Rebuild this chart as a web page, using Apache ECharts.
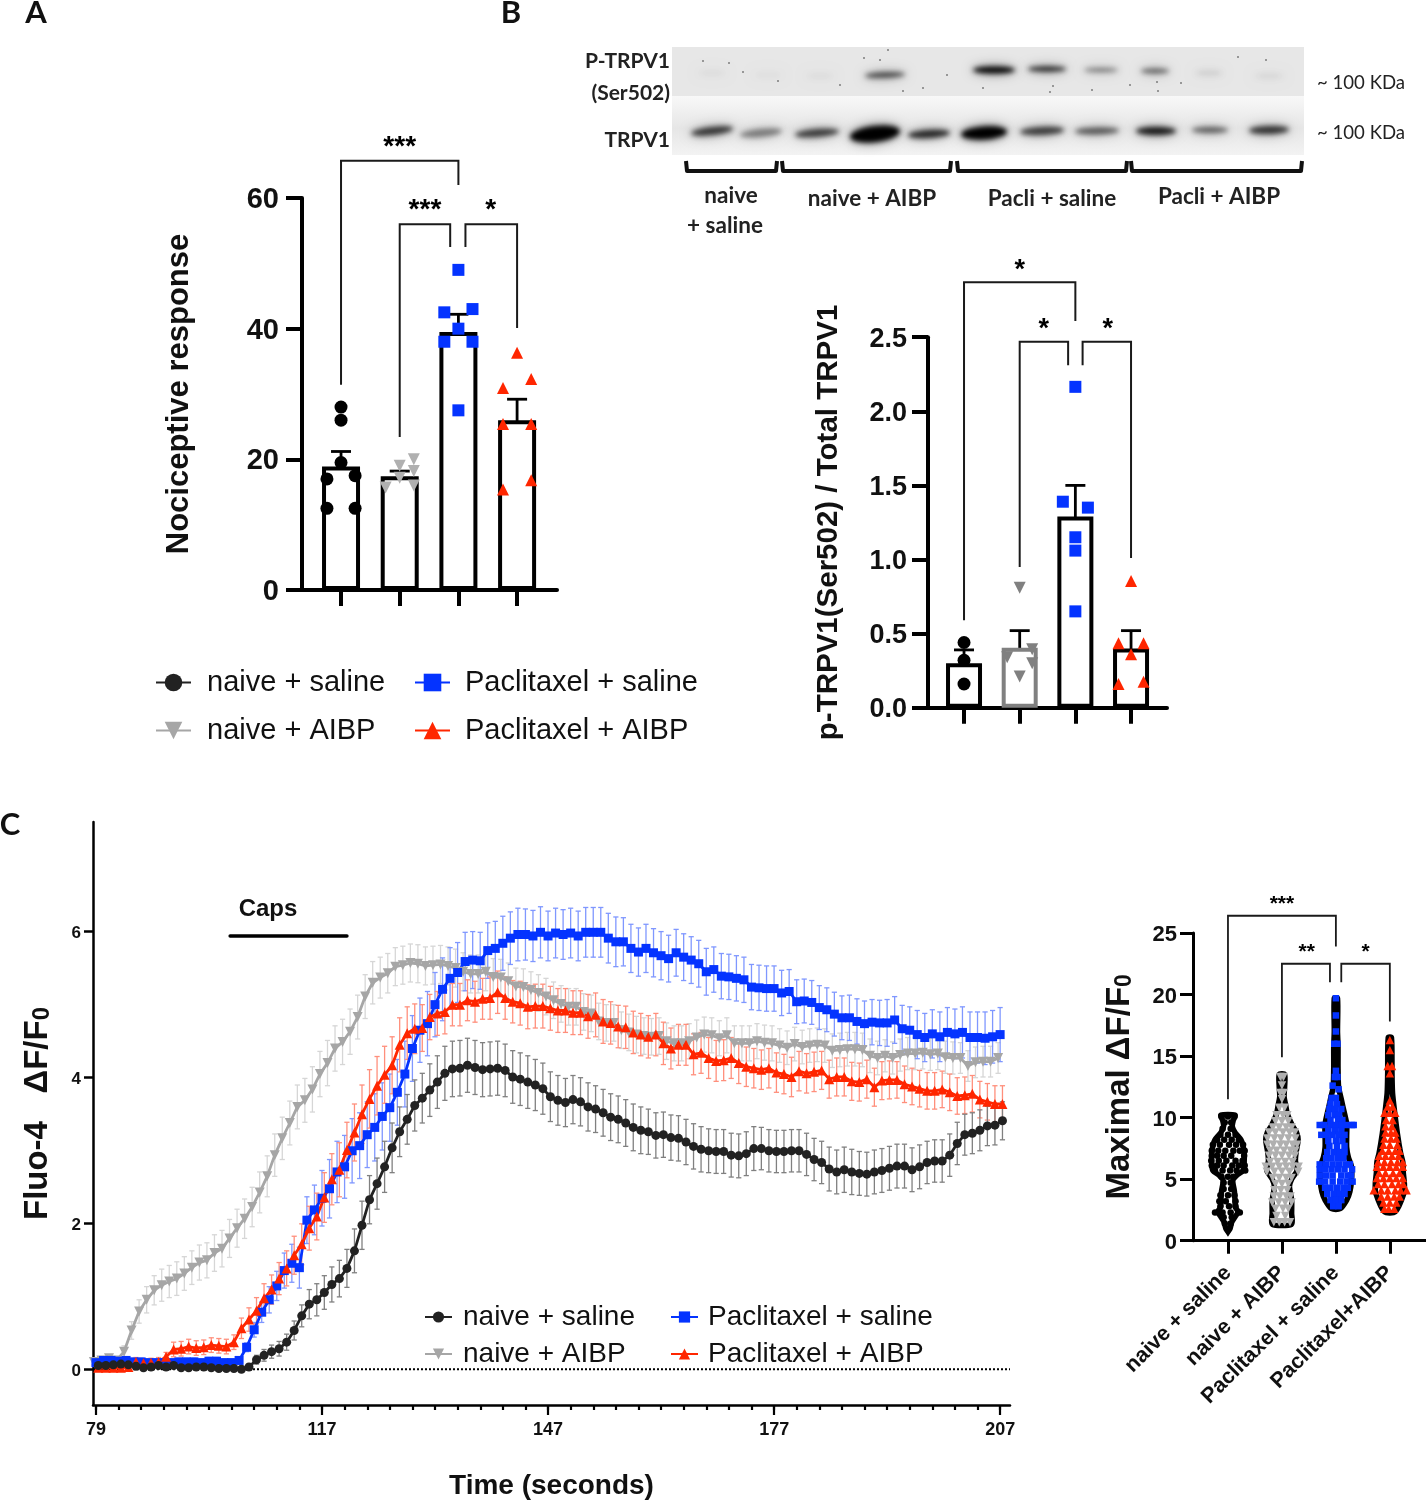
<!DOCTYPE html>
<html><head><meta charset="utf-8">
<style>html,body{margin:0;padding:0;background:#fff}#c{width:1426px;height:1500px}</style>
<script src="https://cdn.jsdelivr.net/npm/echarts@6/dist/echarts.min.js"></script>
</head><body><div id="c"></div>
<script>
const groupNames = ['naive + saline','naive + AIBP','Paclitaxel + saline','Paclitaxel + AIBP'];
const groupTicks = ['naive + saline','naive + AIBP','Paclitaxel + saline','Paclitaxel+AIBP'];
const colors = ['#000000','#b0b0b0','#0433ff','#ff2600'];
const lineColors = ['#222222','#a6a6a6','#0433ff','#ff2600'];
const errColors = ['#808080','#d6d6d6','#7f97ff','#ff8f7c'];

// Panel A
const aMean = [18.9,17.4,39.5,26];
const aHigh = [21.2,18.2,42.2,29.2];
const aLow = [16.7,16.6,37.1,23.2];
const aPoints = [
  [[0,28],[0,26],[0,19.5],[-0.24,17],[0.24,17.5],[-0.24,12.5],[0.24,12.5]],
  [[0.24,20],[0,19],[0.24,18.2],[0,17.2],[0.24,16],[-0.24,15.7]],
  [[0,49],[-0.24,42.5],[0.24,43],[0,40],[-0.24,38],[0.24,38],[0,27.5]],
  [[0,36.3],[0.24,32.3],[-0.24,30.9],[-0.24,25.4],[0.24,25.4],[0.24,16.8],[-0.24,15.4]]
];
// x0, x1, top, left leg end, right leg end, label x, label
const aBrackets = [
  [0,2,65.7,31.4,62,1,'***'],
  [1,1.86,56,23.4,52.5,1.43,'***'],
  [2.12,3,56,52.5,40.1,2.55,'*']
];
// Panel B
const bMean = [0.30,0.405,1.29,0.40];
const bHigh = [0.39,0.52,1.50,0.52];
const bLow = [0.22,0.30,1.09,0.30];
const bPoints = [
  [[0,0.44],[0,0.32],[0,0.16]],
  [[0,0.81],[0.225,0.395],[-0.225,0.34],[0.225,0.30],[0,0.21]],
  [[0,2.165],[-0.225,1.39],[0.225,1.35],[0,1.15],[0,1.06],[0,0.65]],
  [[0,0.855],[-0.225,0.435],[0.225,0.435],[0,0.36],[-0.225,0.16],[0.225,0.175]]
];
const bBrackets = [
  [0,2,2.87,0.59,2.61,1,'*'],
  [1,1.87,2.47,0.95,2.31,1.43,'*'],
  [2.13,3,2.47,2.31,1.01,2.58,'*']
];
// Panel C
const timeTickIndex = [-0.3,29.7,59.7,89.7,119.7];
const timeTickLabels = ['79','117','147','177','207'];
const timeMinorTicks = [-0.3,2.7,5.7,8.7,11.7,14.7,17.7,20.7,23.7,26.7,29.7,32.7,35.7,38.7,41.7,44.7,47.7,50.7,53.7,56.7,59.7,62.7,65.7,68.7,71.7,74.7,77.7,80.7,83.7,86.7,89.7,92.7,95.7,98.7,101.7,104.7,107.7,110.7,113.7,116.7,119.7];
const traceBlack = [.05,.05,.06,.07,.06,.04,.02,.03,.05,.03,.05,.02,.02,.03,.03,.02,.01,.01,.01,0,.03,.13,.19,.24,.28,.37,.53,.73,.89,.95,1.05,1.16,1.24,1.38,1.62,1.97,2.32,2.54,2.77,3.03,3.25,3.42,3.61,3.71,3.82,3.93,4.05,4.11,4.12,4.16,4.13,4.10,4.11,4.12,4.09,4.00,3.97,3.93,3.89,3.84,3.73,3.68,3.65,3.69,3.66,3.59,3.56,3.51,3.45,3.42,3.37,3.31,3.27,3.25,3.20,3.21,3.17,3.16,3.11,3.05,3.01,2.99,2.98,2.98,2.93,2.92,2.95,3.02,3.02,2.99,2.98,2.98,2.99,2.99,2.94,2.87,2.83,2.74,2.70,2.73,2.70,2.68,2.67,2.70,2.72,2.75,2.78,2.78,2.73,2.77,2.83,2.85,2.85,2.93,3.09,3.21,3.23,3.27,3.33,3.34,3.40];
const traceGrey = [.10,.12,.15,.12,.24,.53,.79,.95,1.08,1.15,1.20,1.24,1.31,1.39,1.46,1.49,1.59,1.65,1.79,1.93,2.06,2.22,2.42,2.64,2.93,3.16,3.37,3.59,3.68,3.83,4.04,4.19,4.39,4.48,4.62,4.82,5.10,5.29,5.36,5.42,5.51,5.53,5.56,5.55,5.52,5.53,5.54,5.52,5.49,5.44,5.41,5.41,5.44,5.37,5.36,5.31,5.24,5.23,5.19,5.15,5.10,5.05,5.00,4.96,4.96,4.89,4.87,4.76,4.74,4.74,4.64,4.61,4.58,4.56,4.55,4.56,4.49,4.46,4.46,4.49,4.54,4.58,4.57,4.53,4.57,4.46,4.46,4.46,4.49,4.47,4.46,4.43,4.40,4.45,4.41,4.43,4.44,4.43,4.36,4.37,4.38,4.38,4.37,4.29,4.26,4.29,4.26,4.30,4.32,4.32,4.33,4.31,4.32,4.27,4.26,4.26,4.15,4.20,4.21,4.21,4.26];
const traceBlue = [.09,.12,.12,.11,.12,.10,.10,.09,.09,.09,.09,.10,.10,.10,.09,.11,.11,.09,.09,.12,.30,.54,.78,.95,1.14,1.35,1.45,1.39,2.04,2.18,2.34,2.47,2.70,2.77,2.99,3.06,3.21,3.31,3.46,3.58,3.79,4.04,4.39,4.64,4.73,4.99,5.20,5.35,5.43,5.58,5.60,5.59,5.73,5.76,5.83,5.90,5.95,5.95,5.93,5.98,5.93,5.97,5.95,5.97,5.93,5.98,5.98,5.98,5.90,5.85,5.85,5.76,5.71,5.76,5.70,5.66,5.62,5.70,5.64,5.60,5.55,5.44,5.47,5.38,5.37,5.35,5.33,5.23,5.22,5.21,5.21,5.15,5.17,5.03,5.04,5.02,4.95,4.92,4.86,4.81,4.81,4.76,4.73,4.75,4.74,4.74,4.78,4.66,4.64,4.58,4.54,4.59,4.55,4.61,4.59,4.61,4.54,4.54,4.53,4.55,4.58];
const traceRed = [.02,.02,.02,.02,.03,.10,.08,.09,.10,.17,.27,.28,.31,.29,.30,.33,.32,.31,.37,.56,.68,.80,.97,1.09,1.24,1.38,1.56,1.71,1.93,2.09,2.35,2.60,2.73,3.00,3.24,3.49,3.70,3.88,4.03,4.16,4.44,4.60,4.66,4.67,4.82,4.87,4.89,4.99,4.99,5.05,5.03,5.07,5.08,5.16,5.08,5.03,5.01,4.96,4.97,4.97,4.94,4.91,4.91,4.88,4.88,4.83,4.85,4.76,4.74,4.69,4.68,4.61,4.58,4.55,4.58,4.46,4.39,4.44,4.44,4.31,4.33,4.26,4.22,4.23,4.26,4.19,4.14,4.12,4.10,4.12,4.06,4.04,4.00,4.08,4.05,4.07,4.09,3.97,4.00,4.00,3.94,3.93,3.97,3.86,3.95,3.96,3.96,3.90,3.87,3.84,3.81,3.81,3.83,3.79,3.74,3.75,3.77,3.69,3.66,3.63,3.63];
const errBlack = [.03,.03,.03,.03,.03,.03,.03,.03,.03,.03,.03,.03,.03,.03,.03,.03,.03,.03,.03,.03,.04,.06,.08,.09,.1,.11,.13,.15,.2,.22,.23,.24,.25,.26,.3,.33,.33,.35,.35,.34,.34,.34,.35,.34,.36,.36,.37,.38,.38,.37,.37,.37,.37,.37,.36,.36,.36,.36,.35,.35,.34,.34,.33,.33,.33,.33,.32,.32,.32,.32,.32,.32,.32,.31,.31,.31,.31,.31,.31,.31,.31,.3,.3,.3,.3,.3,.3,.3,.29,.29,.29,.29,.29,.29,.29,.29,.29,.3,.3,.31,.31,.3,.3,.3,.3,.3,.3,.3,.3,.3,.29,.29,.29,.29,.29,.28,.28,.28,.27,.27,.26];
const errGrey = [.04,.04,.04,.04,.08,.12,.16,.18,.2,.22,.22,.23,.23,.23,.24,.24,.25,.25,.26,.26,.27,.27,.28,.28,.29,.29,.3,.3,.3,.31,.31,.31,.31,.31,.31,.3,.3,.29,.28,.27,.26,.26,.26,.26,.26,.26,.26,.26,.26,.26,.26,.26,.26,.25,.25,.25,.25,.25,.25,.25,.25,.25,.25,.25,.25,.25,.25,.25,.25,.25,.25,.25,.25,.25,.25,.25,.25,.24,.24,.24,.24,.24,.24,.24,.24,.24,.24,.24,.24,.24,.24,.23,.23,.23,.23,.23,.23,.23,.23,.23,.23,.23,.23,.23,.23,.22,.22,.22,.22,.22,.22,.22,.22,.22,.22,.21,.21,.21,.21,.21,.21];
const errBlue = [.05,.05,.05,.05,.05,.05,.05,.05,.05,.05,.05,.05,.05,.05,.05,.05,.05,.05,.05,.05,.06,.1,.14,.18,.2,.24,.26,.28,.32,.34,.38,.4,.42,.43,.44,.45,.45,.46,.46,.46,.45,.45,.45,.44,.44,.44,.43,.42,.41,.4,.39,.39,.38,.37,.37,.36,.36,.35,.35,.35,.34,.34,.34,.34,.34,.34,.34,.34,.34,.34,.33,.33,.33,.33,.33,.33,.32,.32,.32,.32,.32,.32,.31,.31,.31,.31,.31,.31,.31,.31,.31,.31,.3,.3,.3,.3,.3,.3,.3,.3,.31,.31,.31,.31,.31,.32,.32,.32,.32,.33,.33,.33,.34,.34,.34,.35,.35,.35,.36,.36,.37];
const errRed = [.03,.03,.03,.03,.03,.06,.06,.06,.06,.06,.1,.1,.1,.1,.1,.1,.1,.1,.1,.14,.16,.18,.2,.2,.22,.24,.26,.28,.3,.32,.34,.35,.37,.38,.39,.4,.4,.4,.39,.39,.37,.36,.34,.32,.31,.3,.3,.29,.29,.28,.28,.28,.29,.29,.29,.29,.3,.3,.3,.3,.3,.3,.3,.3,.3,.3,.3,.3,.29,.29,.29,.29,.29,.29,.29,.29,.28,.28,.28,.28,.28,.28,.28,.28,.28,.28,.27,.27,.27,.27,.27,.27,.27,.27,.27,.27,.26,.26,.26,.26,.26,.26,.26,.26,.26,.26,.25,.25,.25,.25,.25,.25,.25,.25,.25,.25,.25,.25,.25,.25,.25];
const capsBar = [[17.5,5.93],[33,5.93]];
const zeroLine = [[-0.7,0],[121,0]];
// Panel D: violin outlines as [value, half width]
const violinBlack = [[0.73,0],[1,.04],[1.5,.07],[2,.14],[2.35,.19],[2.7,.14],[3.3,.13],[4,.12],[4.9,.09],[5.3,.16],[5.7,.28],[6.3,.3],[7.1,.3],[7.7,.28],[8.2,.24],[8.8,.13],[9.3,.08],[9.8,.1],[10.2,.13]];
const violinGrey = [[1.33,.18],[2.2,.18],[3.3,.18],[4.4,.14],[5,.18],[5.7,.28],[6.5,.25],[7.1,.26],[8.2,.3],[8.8,.27],[9.3,.2],[10.3,.1],[11,.07],[11.7,.04],[12.5,.05],[13.5,.05]];
const violinBlue = [[2.6,.08],[3.3,.2],[4,.26],[4.9,.29],[6,.29],[6.8,.23],[7.6,.2],[8.5,.2],[9.5,.2],[10.9,.13],[11.5,.1],[12.5,.05],[14.1,.04],[15.8,.04],[17,.03],[19.7,.03]];
const violinRed = [[2.35,.1],[3.85,.26],[4.6,.27],[5.5,.25],[6.4,.24],[7.1,.2],[8.7,.14],[10.4,.09],[12,.05],[13.6,.04],[16.5,.03]];
// Panel D points as [value, offsets]
const dotsBlack = [[10.1,[-.12,0,.12]],[9.6,[-.06,.06]],[9.1,[-.1,.05]],[8.6,[-.14,0,.14]],[8.2,[-.2,-.07,.07,.2]],[7.8,[-.28,-.15,.02,.15,.28]],[7.3,[-.3,-.18,-.05,.1,.22,.31]],[6.9,[-.3,-.2,-.08,.06,.3]],[6.5,[-.31,-.17,-.03,.14,.27]],[6.1,[-.3,-.2,-.08,.08,.2,.31]],[5.7,[-.24,-.1,.04,.16,.32]],[5.2,[-.12,0,.1]],[4.7,[-.08,.05]],[4.2,[-.08,.06]],[3.7,[-.14,0,.12]],[3.2,[-.16,-.04,.14]],[2.8,[-.14,.02,.14]],[2.3,[-.24,-.1,.05,.22]],[1.9,[-.08,.07]],[1.4,[-.06,.05]],[0.9,[0]]];
const dotsGrey = [[13.3,[-.03,.03]],[12.6,[0]],[12,[-.03,.03]],[11.5,[0]],[10.8,[-.05,.05]],[10.2,[-.1,.02,.1]],[9.7,[-.12,0,.12]],[9.2,[-.17,-.05,.08,.18]],[8.8,[-.24,-.12,.02,.14,.24]],[8.3,[-.27,-.14,-.02,.12,.25]],[7.8,[-.27,-.16,-.03,.08,.2,.28]],[7.3,[-.22,-.1,.04,.16,.25]],[6.9,[-.24,-.12,0,.13,.24]],[6.4,[-.22,-.08,.06,.2]],[6,[-.3,-.18,-.05,.08,.2,.31]],[5.6,[-.28,-.14,0,.14,.3]],[5.1,[-.17,-.05,.08,.18]],[4.6,[-.12,0,.12]],[4.1,[-.14,-.02,.1]],[3.6,[-.15,-.04,.08,.16]],[3.1,[-.18,-.06,.06,.18]],[2.6,[-.12,.02,.12]],[2,[-.1,.06]],[1.5,[-.15,-.05,.05,.15]]];
const dotsBlue = [[19.7,[0]],[18.3,[0]],[17,[0]],[16,[-.03,.03]],[13.8,[0]],[13.3,[-.02,.03]],[12.6,[-.06]],[12.3,[.05]],[11.6,[-.08,0]],[11.1,[-.1,.02]],[10.7,[-.12,-.02,.1]],[10.2,[-.14,-.02,.06]],[9.8,[-.1,.04,.12]],[9.4,[-.3,-.22,-.1,0,.1,.2,.3,.33]],[8.9,[-.14,-.02,.1]],[8.6,[-.27,-.17,-.06,.06,.16]],[8.1,[-.14,0,.12]],[7.7,[-.12,.02,.16]],[7.2,[-.16,-.04,.08,.16]],[6.7,[-.18,-.08,.04,.14]],[6.2,[-.3,-.18,-.06,.06,.18,.26]],[5.8,[-.3,-.2,-.08,.04,.16,.3]],[5.3,[-.3,-.18,-.06,.1,.22,.28]],[4.8,[-.31,-.2,-.06,.08,.2,.31]],[4.3,[-.2,-.1,.02,.14,.22]],[3.8,[-.16,-.04,.08,.16]],[3.3,[-.1,0,.1]],[2.8,[-.05,.05]]];
const dotsRed = [[16.3,[0]],[15.5,[0]],[14.2,[-.04,.04]],[13.6,[0]],[11.4,[0]],[10.9,[-.04,.05]],[10.4,[-.1,0,.1]],[9.8,[-.07,.05]],[9.3,[-.08,.04]],[8.8,[-.08,.02,.1]],[8.3,[-.1,.02,.12]],[7.8,[-.12,0,.14]],[7.3,[-.14,-.02,.1,.18]],[6.9,[-.2,-.08,.04,.16]],[6.4,[-.22,-.1,.02,.14,.24]],[6,[-.24,-.12,0,.12,.24]],[5.5,[-.2,-.08,.06,.18]],[5.1,[-.24,-.12,0,.12,.24]],[4.6,[-.22,-.1,.04,.16,.25]],[4.1,[-.3,-.16,-.04,.1,.2,.31]],[3.6,[-.16,-.04,.08,.18]],[3.1,[-.12,0,.12]],[2.6,[-.1,-.02,.08]]];
const dBrackets = [
  [0,2,26.4,11.5,23.9,1,'***'],
  [1,1.89,22.5,14.9,21,1.46,'**'],
  [2.1,3,22.5,21,17.8,2.55,'*']
];
const blotSideLabels = [['P-TRPV1',670,61],['(Ser502)',670,93],['TRPV1',670,140]];
const blotGroupLabels = [['naive',731,196],['+ saline',725,226],['naive + AIBP',872,199],['Pacli + saline',1052,199],['Pacli + AIBP',1219,197]];
const kda = [['~ 100 KDa',1317,83],['~ 100 KDa',1317,133]];
const panelLetters = [['A',36,13],['B',511,13],['C',10,825]];
const topBands = [[885,75,20,3,.6,.04],[994,70,21,3.5,.95,0],[1047,69,19,2.5,.8,0],[1101,70,17,2,.42,0],[1155,71,14,2.5,.5,0],[1209,73,13,1.5,.12,0],[1269,76,14,1.5,.08,0],[712,73,13,1.5,.05,0],[768,75,13,1.5,.04,0],[820,76,13,1.5,.05,0]];
const lowBands = [[712,131,21,4,.7,.12],[761,133,21,4,.4,.1],[817,133,22,4,.68,.08],[875,134,25,8,1,.12],[929,134,21,4,.78,.06],[984,133,23,6.5,1,.07],[1042,131,22,4,.68,.05],[1097,131,22,3.5,.55,.02],[1156,131,20,4,.85,0],[1210,130,18,3,.52,0],[1269,130,20,4,.72,.03]];
const speckles = [[703,61],[729,63],[743,72],[778,81],[840,85],[864,58],[880,60],[888,50],[903,91],[923,88],[947,75],[983,88],[1053,86],[1050,92],[1092,90],[1130,85],[1157,82],[1158,91],[1181,83],[1238,57],[1266,60]];
const underBrackets = [[686,777],[782,951],[957,1127],[1131,1302]];

const SANS = '"Liberation Sans",Arial,sans-serif';
const chart = echarts.init(document.getElementById('c'));

function errorSeries(name, xa, rows, color, capPx, lw) {
  return {name, type:'custom', xAxisIndex:xa, yAxisIndex:xa, silent:true, z:2,
    data:rows, encode:{x:0,y:[1,2]},
    renderItem(p, api){
      const x=api.value(0), a=api.coord([x,api.value(1)]), b=api.coord([x,api.value(2)]);
      const st={stroke:color,lineWidth:lw,fill:null};
      return {type:'group',children:[
        {type:'line',shape:{x1:a[0],y1:a[1],x2:b[0],y2:b[1]},style:st},
        {type:'line',shape:{x1:a[0]-capPx,y1:a[1],x2:a[0]+capPx,y2:a[1]},style:st},
        {type:'line',shape:{x1:b[0]-capPx,y1:b[1],x2:b[0]+capPx,y2:b[1]},style:st}]};
    }};
}
function bracketSeries(xa, rows, font, lift, lw) {
  return {name:'sig'+xa, type:'custom', xAxisIndex:xa, yAxisIndex:xa, silent:true, z:3,
    data:rows.map(r=>r.slice(0,6)), encode:{x:[0,1],y:[2,3,4]},
    renderItem(p, api){
      const r=rows[p.dataIndex];
      const a=api.coord([r[0],r[3]]), b=api.coord([r[0],r[2]]), c=api.coord([r[1],r[2]]), d=api.coord([r[1],r[4]]);
      const t=api.coord([r[5],r[2]]);
      return {type:'group',children:[
        {type:'polyline',shape:{points:[a,b,c,d]},style:{stroke:'#1a1a1a',lineWidth:lw,fill:null}},
        {type:'text',style:{text:r[6],x:t[0],y:t[1]-lift,align:'center',verticalAlign:'middle',font:'bold '+font+'px '+SANS,fill:'#000'}}]};
    }};
}
function barSeries(xa, vals, greyIdx) {
  return {name:'bars'+xa, type:'bar', xAxisIndex:xa, yAxisIndex:xa, barWidth: xa===0?38:36, silent:true,
    data:vals.map((v,i)=>({value:[i,v],itemStyle:{color:'#fff',borderColor:i===greyIdx?'#808080':'#000',borderWidth:4}}))};
}
function pointSeries(xa, pts, size) {
  const symbols=['circle','triangle','rect','triangle'];
  return pts.map((list,i)=>({name:'pts'+xa+'_'+i,type:'scatter',xAxisIndex:xa,yAxisIndex:xa,silent:true,
    symbol:symbols[i],symbolRotate:i===1?180:0,symbolSize:(i===0?size+1:size),
    itemStyle:{color:(xa===1&&i===1)?'#808080':colors[i],opacity:1},
    data:list.map(p=>[i+p[0],p[1]])}));
}
function traceSeries(i, vals, errs, shift, sym) {
  const rows=vals.map((v,k)=>[k+shift,v-errs[k],v+errs[k]]);
  return [
    errorSeries('err'+i,2,rows,errColors[i],2.6,1.3),
    {name:groupNames[i],type:'line',xAxisIndex:2,yAxisIndex:2,silent:true,showSymbol:true,showAllSymbol:true,
     symbol:sym,symbolRotate:i===1?180:0,symbolSize:sym==='circle'?9:(sym==='rect'?9:10),
     lineStyle:{color:lineColors[i],width:2.8},itemStyle:{color:lineColors[i]},
     data:vals.map((v,k)=>[k+shift,v])}
  ];
}
function violinSeries(i, outline, dots, sym, size) {
  const poly=[...outline.map(o=>[i+o[1],o[0]]),...outline.slice().reverse().map(o=>[i-o[1],o[0]])];
  const pts=[]; dots.forEach(r=>r[1].forEach(dx=>pts.push([i+dx,r[0]])));
  return [
    {name:'violin'+i,type:'custom',xAxisIndex:3,yAxisIndex:3,silent:true,data:poly,encode:{x:0,y:1},
     renderItem(p,api){
       if(p.dataIndex!==0) return null;
       return {type:'polygon',shape:{points:poly.map(q=>api.coord(q)),smooth:0.25},style:{fill:'#fff',stroke:'#000',lineWidth:5.5}};
     }},
    {name:'dots'+i,type:'scatter',xAxisIndex:3,yAxisIndex:3,silent:true,symbol:sym,symbolRotate:i===1?180:0,symbolSize:size,
     itemStyle:{color:colors[i],opacity:1},data:pts}
  ];
}
function yAxisBase(idx,o){return Object.assign({type:'value',gridIndex:idx,splitLine:{show:false},
  axisLine:{show:true,onZero:false,lineStyle:{color:'#000',width:4}},
  axisTick:{show:true,length:16,lineStyle:{color:'#000',width:4}}},o);}
function xAxisBase(idx,o){return Object.assign({type:'value',gridIndex:idx,splitLine:{show:false},
  axisLine:{show:true,onZero:false,lineStyle:{color:'#000',width:4}},
  axisTick:{show:true,length:16,lineStyle:{color:'#000',width:4},customValues:[0,1,2,3]},
  axisLabel:{show:false}},o);}
function richTitle(size,sub,lower){return {rich:{
  t:{fontFamily:SANS,fontWeight:'bold',fontSize:size,lineHeight:size,color:'#111',verticalAlign:'top',padding:[0,0,lower,0]},
  s:{fontFamily:SANS,fontWeight:'bold',fontSize:sub,lineHeight:sub,color:'#111',verticalAlign:'bottom'}}};}
function yLabel(margin,size,extra){return Object.assign({margin,verticalAlign:'top',padding:[2-size/2,0,0,0],fontWeight:'bold',fontSize:size,color:'#111',fontFamily:SANS},extra||{});}

const OFF = 3000;
const blot=[];
blot.push({type:'rect',shape:{x:672,y:47,width:632,height:49},style:{fill:'#e7e7e7'}});
blot.push({type:'rect',shape:{x:672,y:96,width:632,height:59},style:{fill:new echarts.graphic.LinearGradient(0,0,0,1,[{offset:0,color:'#f8f8f8'},{offset:.55,color:'#e6e6e6'},{offset:1,color:'#f3f3f3'}])}});
[...topBands,...lowBands].forEach(b=>{
  const base={rotation:b[5],originX:b[0]-OFF,originY:b[1]};
  const halo={type:'ellipse',shape:{cx:b[0]-OFF,cy:b[1],rx:b[2]+2,ry:b[3]+3},style:{fill:'#000',shadowBlur:10,shadowOffsetX:OFF,shadowColor:'rgba(0,0,0,'+(b[4]*0.3)+')'}};
  const core={type:'ellipse',shape:{cx:b[0]-OFF,cy:b[1],rx:b[2],ry:b[3]},style:{fill:'#000',shadowBlur:5,shadowOffsetX:OFF,shadowColor:'rgba(0,0,0,'+b[4]+')'}};
  blot.push(Object.assign(halo,base));
  blot.push(Object.assign(core,base));
});
speckles.forEach(s=>blot.push({type:'circle',shape:{cx:s[0],cy:s[1],r:0.8},style:{fill:'#333'}}));
underBrackets.forEach(u=>blot.push({type:'polyline',shape:{points:[[u[0],161],[u[0]+1,171],[u[1]-1,171],[u[1],161]]},style:{stroke:'#111',lineWidth:4,lineJoin:'round',fill:null}}));
blotSideLabels.forEach(t=>blot.push({type:'text',style:{text:t[0],x:t[1],y:t[2],align:'right',verticalAlign:'middle',font:'bold 21px Lato',fill:'#222'}}));
blotGroupLabels.forEach(t=>blot.push({type:'text',style:{text:t[0],x:t[1],y:t[2],align:'center',verticalAlign:'middle',font:'bold 22.5px Lato',fill:'#222'}}));
kda.forEach(t=>blot.push({type:'text',style:{text:t[0],x:t[1],y:t[2],align:'left',verticalAlign:'middle',font:'18.6px Lato',fill:'#222'}}));
panelLetters.forEach(t=>blot.push({type:'text',style:{text:t[0],x:t[1],y:t[2],align:'center',verticalAlign:'middle',font:'bold 31px Lato',fill:'#111'}}));
blot.push({type:'text',style:{text:'Caps',x:268,y:909,align:'center',verticalAlign:'middle',font:'bold 24px '+SANS,fill:'#111'}});

function legendAt(names,left,top,itemW,itemH,gap,font,pad){
  return {show:true,orient:'vertical',left,top,itemWidth:itemW,itemHeight:itemH,itemGap:gap,selectedMode:false,padding:0,
    data:names,textStyle:{fontFamily:SANS,fontSize:font,color:'#111',padding:[0,0,0,pad]}};
}

const option={
  animation:false, backgroundColor:'#fff', textStyle:{fontFamily:SANS},
  graphic:{elements:blot},
  legend:[
    legendAt([groupNames[0],groupNames[1]],155,668,35,22,19,29,11),
    legendAt([groupNames[2],groupNames[3]],414,668,35,22,19,29,10),
    legendAt([groupNames[0],groupNames[1]],424,1303,27,14,9,28,6),
    legendAt([groupNames[2],groupNames[3]],670,1303,27,14,9,28,5)
  ],
  grid:[
    {left:302,top:198,width:255,height:392,outerBoundsMode:'none'},
    {left:928,top:337.2,width:239,height:370.5,outerBoundsMode:'none'},
    {left:93,top:822,width:917,height:583,outerBoundsMode:'none'},
    {left:1193,top:933,width:233,height:307.7,outerBoundsMode:'none'}
  ],
  xAxis:[
    xAxisBase(0,{min:-0.665,max:3.68}),
    xAxisBase(1,{min:-0.647,max:3.646}),
    {type:'value',gridIndex:2,position:'bottom',min:-0.7,max:121,splitLine:{show:false},
     name:'Time (seconds)',nameLocation:'middle',nameGap:67,nameMoveOverlap:false,nameTextStyle:{fontFamily:SANS,fontWeight:'bold',fontSize:28,color:'#111'},
     axisLine:{show:true,onZero:false,lineStyle:{color:'#000',width:2.5}},
     axisTick:{show:true,length:5,lineStyle:{color:'#000',width:2.2},customValues:timeMinorTicks},
     axisLabel:{show:false}},
    {type:'value',gridIndex:3,min:-0.648,max:3.67,splitLine:{show:false},
     axisLine:{show:true,onZero:false,lineStyle:{color:'#000',width:3}},
     axisTick:{show:true,length:13,lineStyle:{color:'#000',width:3},customValues:[0,1,2,3]},
     axisLabel:{show:true,customValues:[0,1,2,3],rotate:45,margin:29,fontWeight:'bold',fontSize:21.5,color:'#111',fontFamily:SANS,
       formatter:v=>groupTicks[v]}},
    {type:'value',gridIndex:2,position:'bottom',min:-0.7,max:121,splitLine:{show:false},
     axisLine:{show:false,onZero:false},
     axisTick:{show:true,length:10,lineStyle:{color:'#000',width:2.2},customValues:timeTickIndex},
     axisLabel:{show:true,customValues:timeTickIndex,margin:16,fontWeight:'bold',fontSize:18,color:'#111',fontFamily:SANS,
       formatter:v=>timeTickLabels[timeTickIndex.indexOf(v)]}}
  ],
  yAxis:[
    yAxisBase(0,{min:0,max:60,interval:20,name:'Nociceptive response',nameLocation:'middle',nameGap:107,nameRotate:90,nameMoveOverlap:false,
      nameTextStyle:{fontFamily:SANS,fontWeight:'bold',fontSize:31,color:'#111'},
      axisLabel:yLabel(23,29)}),
    yAxisBase(1,{min:0,max:2.5,interval:0.5,name:'p-TRPV1(Ser502) / Total TRPV1',nameLocation:'middle',nameGap:84,nameRotate:90,nameMoveOverlap:false,
      nameTextStyle:{fontFamily:SANS,fontWeight:'bold',fontSize:29.5,color:'#111'},
      axisLabel:yLabel(21,27,{formatter:v=>v.toFixed(1)})}),
    {type:'value',gridIndex:2,min:-0.49,max:7.49,splitLine:{show:false},
      name:'{t|Fluo-4   ΔF/F}{s|0}',nameLocation:'middle',nameGap:39,nameRotate:90,nameMoveOverlap:false,
      nameTextStyle:richTitle(33,24,12),
      axisLine:{show:true,onZero:false,lineStyle:{color:'#000',width:2.5}},
      axisTick:{show:true,length:9,lineStyle:{color:'#000',width:2.5},customValues:[0,2,4,6]},
      axisLabel:yLabel(12,17,{show:true,customValues:[0,2,4,6]})},
    yAxisBase(3,{min:0,max:25,interval:5,name:'{t|Maximal ΔF/F}{s|0}',nameLocation:'middle',nameGap:57,nameRotate:90,nameMoveOverlap:false,
      nameTextStyle:richTitle(33,23,12),
      axisLine:{show:true,onZero:false,lineStyle:{color:'#000',width:3}},
      axisTick:{show:true,length:13,lineStyle:{color:'#000',width:3}},
      axisLabel:yLabel(16,22)})
  ],
  series:[
    // panel C
    {name:'zero',type:'line',xAxisIndex:2,yAxisIndex:2,silent:true,symbol:'none',data:zeroLine,lineStyle:{color:'#000',width:2,type:[2,2]}},
    {name:'caps',type:'line',xAxisIndex:2,yAxisIndex:2,silent:true,symbol:'none',data:capsBar,lineStyle:{color:'#000',width:3.5,cap:'round'}},
    ...traceSeries(1,traceGrey,errGrey,-0.58,'triangle'),
    ...traceSeries(2,traceBlue,errBlue,-0.31,'rect'),
    ...traceSeries(3,traceRed,errRed,0,'triangle'),
    ...traceSeries(0,traceBlack,errBlack,0,'circle'),
    // panel A
    barSeries(0,aMean,-1),
    errorSeries('errA',0,aMean.map((m,i)=>[i,aLow[i],aHigh[i]]),'#000',10,2.8),
    ...pointSeries(0,aPoints,12),
    bracketSeries(0,aBrackets,28,13.5,2),
    // panel B
    barSeries(1,bMean,1),
    errorSeries('errB',1,bMean.map((m,i)=>[i,bLow[i],bHigh[i]]),'#000',10,2.8),
    ...pointSeries(1,bPoints,12),
    bracketSeries(1,bBrackets,27,12,2),
    // panel D
    ...violinSeries(0,violinBlack,dotsBlack,'circle',6.5),
    ...violinSeries(1,violinGrey,dotsGrey,'triangle',8.5),
    ...violinSeries(2,violinBlue,dotsBlue,'rect',6.5),
    ...violinSeries(3,violinRed,dotsRed,'triangle',8.5),
    bracketSeries(3,dBrackets,21,12,1.8)
  ]
};
chart.setOption(option);
</script></body></html>
